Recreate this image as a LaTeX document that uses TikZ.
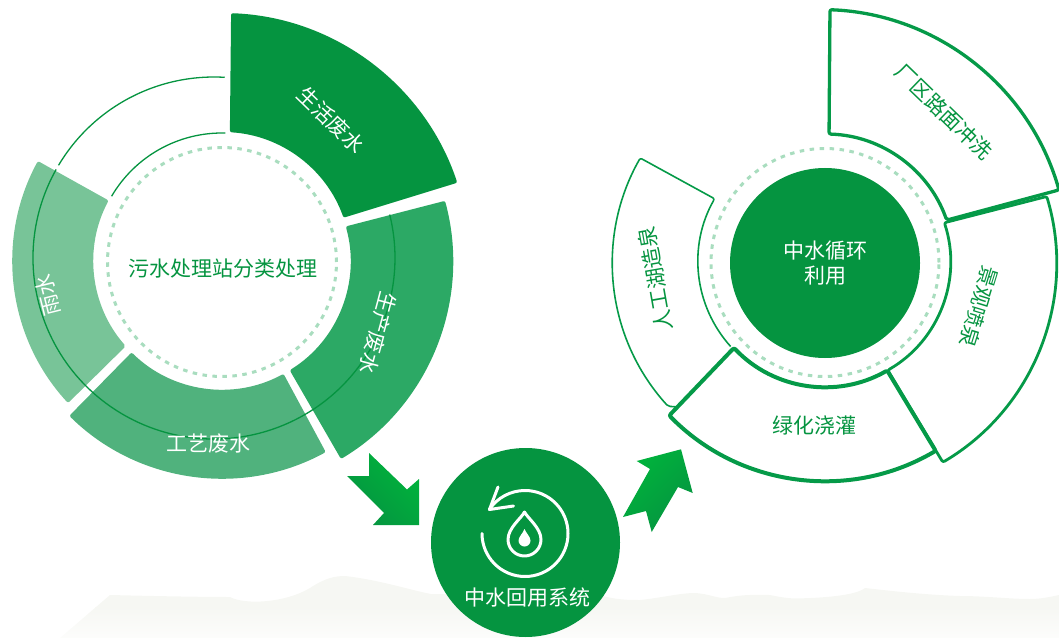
\documentclass[tikz,border=0pt]{standalone}
\usepackage{fontspec}
\setmainfont{Noto Sans CJK SC}
\usetikzlibrary{shadings,calc}
\definecolor{gA}{HTML}{059440}
\definecolor{gB}{HTML}{2CA965}
\definecolor{gC}{HTML}{50B27D}
\definecolor{gD}{HTML}{78C498}
\definecolor{gLine}{HTML}{059A48}
\definecolor{gDash}{HTML}{A9DDBF}
\definecolor{gBright}{HTML}{00B43C}
\definecolor{gHill}{HTML}{F6F7F3}
\newcommand{\seg}[8]{%
  (#1)++(#3:#2) arc[start angle=#3,end angle=#4,radius=#2]
  -- ($(#5)+(#8:#6)$) arc[start angle=#8,end angle=#7,radius=#6] -- cycle}
\tikzset{
  x=1pt,y=1pt,
  every node/.style={inner sep=0pt,outer sep=0pt,align=center,font=\fontsize{21}{26}\selectfont},
  whitetext/.style={text=white},
  greentext/.style={text=gA},
  ringcorner/.style={rounded corners=2pt,line join=round},
  thinline/.style={draw=gA,line width=1.3pt},
  dashring/.style={draw=gDash,line width=3pt,dash pattern=on 4.5pt off 5.5pt},
  arrowa/.style={left color=gBright,right color=gA,shading angle=-45},
  arrowb/.style={left color=gBright,right color=gA,shading angle=45},
  iconline/.style={draw=white,line width=3pt,line cap=round,line join=round},
}
\begin{document}
\begin{tikzpicture}
\useasboundingbox (0,0) rectangle (1059,638);
\coordinate (cl) at (222,377);
\coordinate (cthin) at (214,380);
\coordinate (cr) at (825,375);
\coordinate (crin) at (825,376.5);
\coordinate (crout) at (820,380);
\coordinate (cbot) at (525.5,95.5);
% hills
\begin{scope}
\clip (60,0) -- (110,43) .. controls (150,42) and (200,41) .. (230,41)
  .. controls (245,33) and (285,35) .. (310,50)
  .. controls (325,60) and (335,62) .. (345,62)
  .. controls (380,58) and (410,48) .. (431,44) -- (600,43)
  .. controls (615,38) and (630,38) .. (640,38)
  .. controls (660,40) and (680,45) .. (695,45)
  .. controls (710,44) and (715,40) .. (725,40)
  .. controls (745,44) and (755,43) .. (770,43)
  .. controls (780,41) and (785,40) .. (795,39.5)
  .. controls (820,40) and (855,42) .. (865,50)
  .. controls (900,46) and (930,43) .. (960,42)
  .. controls (985,42) and (1010,39) .. (1030,39)
  .. controls (1040,39) and (1050,41) .. (1059,43) -- (1059,0) -- cycle;
\foreach \b [evaluate=\b as \m using 30+\b*2.33] in {0,...,30}
  \fill[gHill!\m!white] (0,{\b}) rectangle (1059,{\b+1.2});
\fill[gHill] (0,30) rectangle (1059,70);
\end{scope}
% left ring
\fill[gA,ringcorner] \seg{cl}{248}{87.9}{18.4}{cl}{129}{86.5}{19.6};
\fill[gB,ringcorner] \seg{cl}{231}{15.1}{-59}{cl}{128.5}{15.6}{-58.2};
\fill[gC,ringcorner] \seg{cl}{217.5}{-134.6}{-61.5}{cl}{128.5}{-134.7}{-61.4};
\fill[gD,ringcorner] \seg{cl}{209.5}{151.5}{222.7}{cl}{128.5}{151.9}{221.5};
\draw[thinline] ($(cthin)+(86.6:181)$) arc[start angle=86.6,end angle=149.2,radius=181];
\draw[thinline] ($(cthin)+(150.7:181)$) arc[start angle=150.7,end angle=373.9,radius=181];
\draw[thinline] ($(cl)+(88.5:128)$) arc[start angle=88.5,end angle=149.6,radius=128];
\draw[dashring] (222,376) circle[radius=114.5];
\node[greentext] (title) at (223,369) {污水处理站分类处理};
\node[whitetext,rotate=-44] (s1) at (331,518) {生活废水};
\node[whitetext,rotate=-105] (s2) at (378,305) {生产废水};
\node[whitetext] (s3) at (208,194.5) {工艺废水};
\node[whitetext,rotate=104] (s4) at (47.5,343) {雨水};
% arrows
\shade[arrowa] (369,185) -- (407,148.5) -- (419,159) -- (419,113) -- (373,113) -- (384,125) -- (347,162) -- (369,162) -- cycle;
\shade[arrowb] (681,188.7) -- (692.7,145) -- (678,151) -- (651.7,106) -- (646,127) -- (623,121) -- (650,169) -- (636.7,177) -- cycle;
% bottom circle
\fill[gA] (cbot) circle[radius=94.5];
\coordinate (ci) at (525,104.5);
\draw[iconline] ($(ci)+(180:43)$) arc[start angle=180,end angle=506,radius=43];
\draw[iconline] (498,151) -- (489.5,128.5) -- (513.5,132);
\draw[iconline] (524.5,126) .. controls (527.5,120) and (541,110) .. (541,98.5) arc[start angle=0,end angle=-180,radius=16.5] .. controls (508,110) and (521.5,120) .. cycle;
\fill[white] (524.5,109) .. controls (526,105) and (530.5,101) .. (530.5,97.5) arc[start angle=0,end angle=-180,radius=6] .. controls (518.5,101) and (523,105) .. cycle;
\node[whitetext] (cap) at (527,40) {中水回用系统};
% right ring
\draw[gLine,line width=1.6pt,ringcorner] ($(crin)+(222:127)$) arc[start angle=222,end angle=150.4,radius=127] -- ($(cr)+(150.4:212.5)$) arc[start angle=150.4,end angle=222.4,radius=212.5] -- (678,231);
\draw[gLine,line width=3.3pt,ringcorner] ($(crout)+(87.7:248.5)$) arc[start angle=87.7,end angle=15.9,radius=248.5] -- ($(cr)+(19.4:129)$) arc[start angle=19.4,end angle=88.2,radius=129] -- cycle;
\draw[gLine,line width=2.8pt,ringcorner] \seg{cr}{231.5}{16.7}{-59.4}{crin}{125.5}{18}{-60};
\draw[gLine,line width=4pt,ringcorner] \seg{cr}{218}{-135.6}{-59.5}{crin}{125.5}{-136.5}{-60.3};
\draw[dashring] (825,375.5) circle[radius=114];
\fill[gA] (cr) circle[radius=95];
\node[whitetext] (hub) at (825,375) {中水循环\\[-1pt]利用};
\node[greentext,rotate=-44] (u1) at (944,526) {厂区路面冲洗};
\node[greentext,rotate=-107] (u2) at (979,331) {景观喷泉};
\node[greentext] (u3) at (814,212) {绿化浇灌};
\node[greentext,rotate=100] (u4) at (655.5,359) {人工湖造泉};
\end{tikzpicture}
\end{document}
